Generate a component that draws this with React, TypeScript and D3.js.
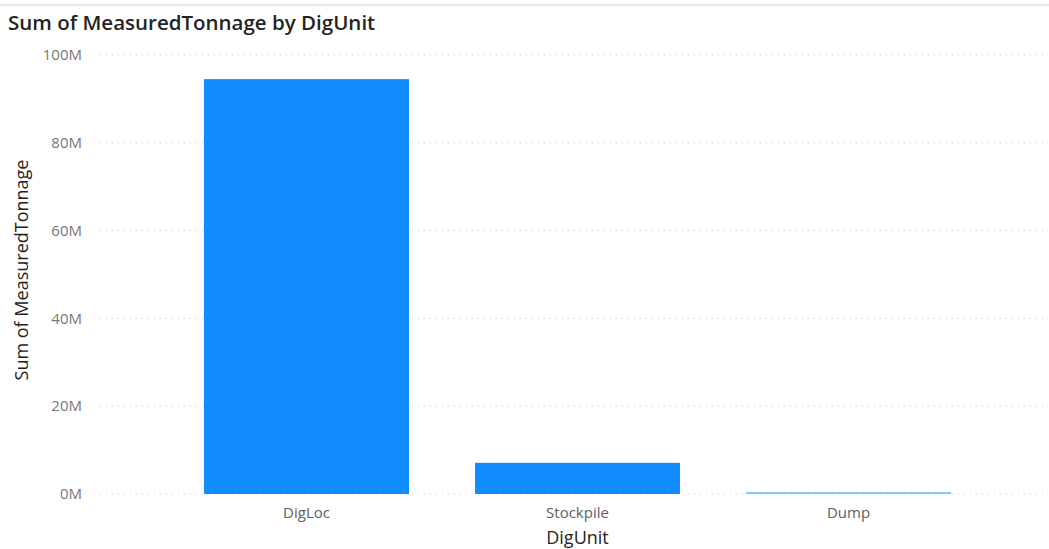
import React from "react";
import * as d3 from "d3";

const categories = ["DigLoc", "Stockpile", "Dump"];
const values = [94.5e6, 7.1e6, 0.45e6];
const yTicks = [0, 20e6, 40e6, 60e6, 80e6, 100e6];

const W = 1049;
const H = 549;

export default function App() {
  const y = d3.scaleLinear().domain([0, 100e6]).range([494, 55]);
  const x = d3
    .scaleBand<string>()
    .domain(categories)
    .range([100, 1055])
    .paddingInner(0.2435)
    .paddingOuter(0.3838);
  const fmt = (v: number) => `${v / 1e6}M`;
  const font = "'Open Sans', 'Segoe UI', sans-serif";
  return (
    <svg
      width={W}
      height={H}
      style={{ position: "absolute", left: 0, top: 0, background: "#fff" }}
    >
      <line x1={0} x2={W} y1={5} y2={5} stroke="#e6e6e6" strokeWidth={2} />
      <text
        x={8}
        y={30}
        fontFamily={font}
        fontSize={20.5}
        fontWeight={600}
        fill="#252423"
      >
        Sum of MeasuredTonnage by DigUnit
      </text>
      {yTicks.map((t) => (
        <g key={t}>
          <line
            x1={100}
            x2={1045}
            y1={y(t)}
            y2={y(t)}
            stroke="#c8c8c8"
            strokeWidth={1}
            strokeDasharray="1 5"
          />
          <text
            x={82}
            y={y(t)}
            dy="0.35em"
            textAnchor="end"
            fontFamily={font}
            fontSize={15}
            fill="#777"
          >
            {fmt(t)}
          </text>
        </g>
      ))}
      {categories.map((c, i) => (
        <g key={c}>
          <rect
            x={x(c)}
            y={y(values[i])}
            width={x.bandwidth()}
            height={Math.max(y(0) - y(values[i]), 2)}
            fill={i === 2 ? "#88c4ff" : "#118DFF"}
          />
          <text
            x={(x(c) as number) + x.bandwidth() / 2}
            y={518}
            textAnchor="middle"
            fontFamily={font}
            fontSize={15}
            fill="#605E5C"
          >
            {c}
          </text>
        </g>
      ))}
      <text
        x={(x("Stockpile") as number) + x.bandwidth() / 2}
        y={544}
        textAnchor="middle"
        fontFamily={font}
        fontSize={18}
        fontWeight={500}
        fill="#252423"
      >
        DigUnit
      </text>
      <text
        transform={`translate(28, ${270}) rotate(-90)`}
        textAnchor="middle"
        fontFamily={font}
        fontSize={18}
        fontWeight={500}
        fill="#252423"
      >
        Sum of MeasuredTonnage
      </text>
    </svg>
  );
}
